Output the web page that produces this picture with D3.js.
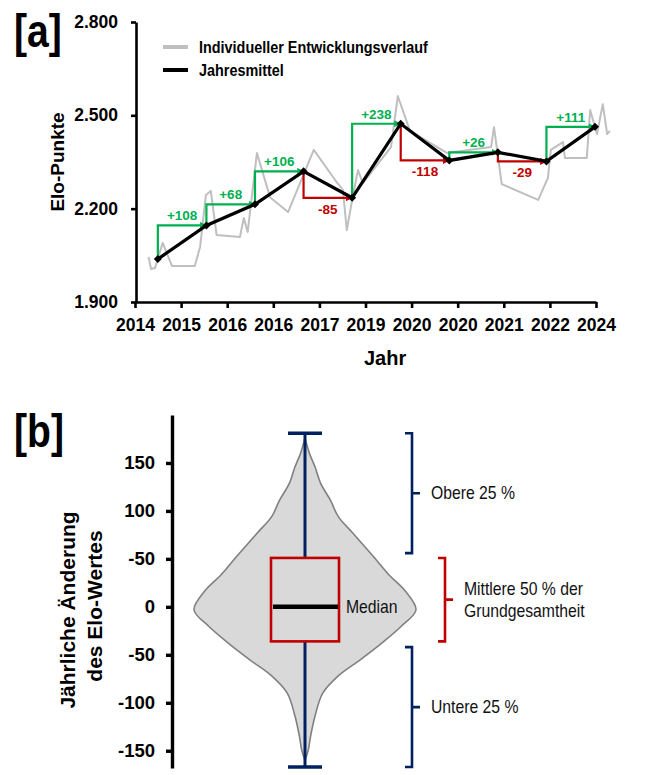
<!DOCTYPE html>
<html lang="de">
<head>
<meta charset="UTF-8">
<title>Elo-Entwicklung</title>
<script src="https://d3js.org/d3.v7.min.js"></script>
<style>
  body {margin: 0; background: #fff}
  text {font-family: 'Liberation Sans Narrow', 'Arial Narrow', 'Liberation Sans', Arial, sans-serif; fill: #000}
  .bold {font-weight: bold}
</style>
</head>
<body>
<script>
const width  = 646;
const height = 775;

// ---- panel [a]: Elo-Verlauf
const meanYears = [2014.5, 2015.5, 2016.5, 2017.5, 2018.5, 2019.5, 2020.5, 2021.5, 2022.5, 2023.5];
const meanElo   = [2038, 2146, 2214, 2320, 2235, 2473, 2355, 2381, 2352, 2463];
const diffLabels = ["+108", "+68", "+106", "-85", "+238", "-118", "+26", "-29", "+111"];

const greyYears = [2014.31, 2014.36, 2014.44, 2014.60, 2014.79, 2015.26, 2015.37, 2015.49, 2015.59, 2015.71,
                   2016.19, 2016.27, 2016.35, 2016.54, 2016.81, 2017.18, 2017.71, 2018.15, 2018.31, 2018.39,
                   2018.50, 2018.62, 2018.72, 2019.30, 2019.44, 2019.69, 2020.45, 2021.36, 2021.42, 2021.58,
                   2022.33, 2022.53, 2022.59, 2022.84, 2022.88, 2023.33, 2023.40, 2023.54, 2023.66, 2023.75, 2023.81];
const greyElo   = [2045, 2006, 2009, 2090, 2016, 2016, 2077, 2244, 2257, 2115,
                   2109, 2170, 2125, 2379, 2237, 2189, 2389, 2292, 2260, 2131,
                   2228, 2324, 2282, 2398, 2562, 2450, 2379, 2398, 2462, 2279,
                   2228, 2299, 2389, 2414, 2363, 2363, 2517, 2440, 2536, 2440, 2450];

const xTickLabels   = ["2014", "2015", "2016", "2016", "2017", "2019", "2020", "2020", "2021", "2022", "2024"];
const eloTicks      = [1900, 2200, 2500, 2800];
const eloTickLabels = ["1.900", "2.200", "2.500", "2.800"];
const legendLabels  = ["Individueller Entwicklungsverlauf", "Jahresmittel"];

// ---- panel [b]: jährliche Änderung
const violinValues  = [176, 160, 146, 129, 111, 94, 77, 52, 33, 17, -3, -20, -37, -55, -72, -90, -114, -135, -149, -160];
const violinDensity = [0, .04, .09, .14, .23, .30, .43, .62, .76, .90, 1, .87, .70, .50, .30, .16, .09, .05, .03, 0];
const whiskerRange  = [181, -167];
const quartiles     = [51, -36];
const medianValue   = 0;
const changeTicks      = [150, 100, 50, 0, -50, -100, -150];
const changeTickLabels = ["150", "100", "-50", "0", "-50", "-100", "-150"];
const bracketRanges = [[181, 56], [51, -36], [-42, -167]];
const bracketLabels = [["Obere 25 %"], ["Mittlere 50 % der", "Grundgesamtheit"], ["Untere 25 %"]];

const navy  = "#002060";
const red   = "#c00000";
const green = "#00b050";

// squeeze text horizontally around its anchor point (no narrow font available)
function narrow(sel, s) {
    sel.each(function() {
        const t = d3.select(this);
        const x0 = +t.attr("x") || 0, y0 = +t.attr("y") || 0;
        const prev = t.attr("transform") || "";
        t.attr("transform", `${prev} translate(${x0},${y0}) scale(${s},1) translate(${-x0},${-y0})`);
    });
}

const svg = d3.select("body").append("svg")
    .attr("width", width)
    .attr("height", height);

const defs = svg.append("defs");
[["up", green], ["down", red]].forEach(([id, c]) => {
    defs.append("marker")
        .attr("id", "arrow-" + id)
        .attr("viewBox", "0 0 10 10")
        .attr("refX", 9).attr("refY", 5)
        .attr("markerWidth", 3.2).attr("markerHeight", 3.2)
        .attr("orient", "auto")
        .append("path")
        .attr("d", "M0,0L10,5L0,10z")
        .attr("fill", c);
});

// ================= [a] =================
const x = d3.scaleLinear().domain([2014.03, 2023.52]).range([135, 596]);
const y = d3.scaleLinear().domain([1900, 2800]).range([302, 22]);

const xTickValues = d3.range(xTickLabels.length)
    .map(i => x.domain()[0] + i * (x.domain()[1] - x.domain()[0]) / (xTickLabels.length - 1));

const axA_y = svg.append("g")
    .attr("transform", "translate(136,0)")
    .call(d3.axisLeft(y).tickValues(eloTicks).tickSize(5).tickSizeOuter(0).tickPadding(13)
          .tickFormat((d, i) => eloTickLabels[i]));
const axA_x = svg.append("g")
    .attr("transform", "translate(0,302)")
    .call(d3.axisBottom(x).tickValues(xTickValues).tickSize(6).tickSizeOuter(0).tickPadding(11)
          .tickFormat((d, i) => xTickLabels[i]));

[axA_y, axA_x].forEach(g => {
    g.select(".domain").attr("stroke-width", 2.6);
    g.selectAll(".tick line").attr("stroke-width", 2.6);
    g.selectAll(".tick text").attr("class", "bold").style("font-size", "17.5px");
});

// grey individual course
svg.append("path")
    .attr("d", d3.line().x((d, i) => x(greyYears[i])).y(d => y(d))(greyElo))
    .attr("fill", "none")
    .attr("stroke", "#bfbfbf")
    .attr("stroke-width", 2)
    .attr("stroke-linejoin", "round");

// step arrows with labels
const steps = d3.range(meanElo.length - 1);
svg.selectAll("path.step")
    .data(steps).enter()
    .append("path")
    .attr("class", "step")
    .attr("d", i => `M${x(meanYears[i])},${y(meanElo[i])}V${y(meanElo[i + 1])}H${x(meanYears[i + 1])}`)
    .attr("fill", "none")
    .attr("stroke", i => meanElo[i + 1] >= meanElo[i] ? green : red)
    .attr("stroke-width", 2.2)
    .attr("marker-end", i => meanElo[i + 1] >= meanElo[i] ? "url(#arrow-up)" : "url(#arrow-down)");

svg.selectAll("text.step")
    .data(steps).enter()
    .append("text")
    .attr("class", "step bold")
    .attr("x", i => (x(meanYears[i]) + x(meanYears[i + 1])) / 2)
    .attr("y", i => meanElo[i + 1] >= meanElo[i] ? y(meanElo[i + 1]) - 5 : y(meanElo[i + 1]) + 16)
    .attr("text-anchor", "middle")
    .style("font-size", "13.5px")
    .style("fill", i => meanElo[i + 1] >= meanElo[i] ? green : red)
    .text(i => diffLabels[i]);

// annual mean line + diamonds
svg.append("path")
    .attr("d", d3.line().x((d, i) => x(meanYears[i])).y(d => y(d))(meanElo))
    .attr("fill", "none")
    .attr("stroke", "#000")
    .attr("stroke-width", 3.2);

svg.selectAll("path.dot")
    .data(meanElo).enter()
    .append("path")
    .attr("class", "dot")
    .attr("d", d3.symbol(d3.symbolSquare, 32))
    .attr("transform", (d, i) => `translate(${x(meanYears[i])},${y(d)}) rotate(45)`)
    .attr("fill", "#000");

// legend
const legend = svg.selectAll("g.legend")
    .data(legendLabels).enter()
    .append("g")
    .attr("class", "legend")
    .attr("transform", (d, i) => `translate(163,${47 + i * 23})`);
legend.append("line")
    .attr("x1", 0).attr("x2", 25)
    .attr("stroke", (d, i) => i == 0 ? "#bfbfbf" : "#000")
    .attr("stroke-width", 4);
legend.append("text")
    .attr("class", "bold legend-text")
    .attr("x", 36).attr("y", 6)
    .style("font-size", "16px")
    .text(d => d);
narrow(legend.selectAll("text"), 0.9);

const tagA = svg.append("text").attr("class", "bold")
    .attr("x", 14).attr("y", 47)
    .style("font-size", "46px")
    .text("[a]");
narrow(tagA, 0.85);
svg.append("text").attr("class", "bold")
    .attr("transform", "translate(64,162) rotate(-90)")
    .attr("text-anchor", "middle")
    .style("font-size", "19px")
    .text("Elo-Punkte");
svg.append("text").attr("class", "bold")
    .attr("x", 364).attr("y", 365)
    .style("font-size", "20px")
    .text("Jahr");

// ================= [b] =================
const yb = d3.scaleLinear().domain([-168, 200]).range([768, 415]);
const cx = 305;
const w  = d3.scaleLinear().domain([0, 1]).range([0, 111]);

const axB = svg.append("g")
    .attr("transform", "translate(172,0)")
    .call(d3.axisLeft(yb).tickValues(changeTicks).tickSize(6).tickSizeOuter(0).tickPadding(11)
          .tickFormat((d, i) => changeTickLabels[i]));
axB.select(".domain").attr("stroke-width", 3.4);
axB.selectAll(".tick line").attr("stroke-width", 3.4);
axB.selectAll(".tick text").attr("class", "bold").style("font-size", "18.5px");

// violin
svg.append("path")
    .datum(violinValues)
    .attr("d", d3.area()
        .curve(d3.curveCatmullRom)
        .y(d => yb(d))
        .x0((d, i) => cx - w(violinDensity[i]))
        .x1((d, i) => cx + w(violinDensity[i])))
    .attr("fill", "#d9d9d9")
    .attr("stroke", "#808080")
    .attr("stroke-width", 1.6);

// whiskers
const boxHalf = 34;
svg.append("line")
    .attr("x1", cx).attr("x2", cx)
    .attr("y1", yb(whiskerRange[0])).attr("y2", yb(quartiles[0]))
    .attr("stroke", navy).attr("stroke-width", 3);
svg.append("line")
    .attr("x1", cx).attr("x2", cx)
    .attr("y1", yb(quartiles[1])).attr("y2", yb(whiskerRange[1]))
    .attr("stroke", navy).attr("stroke-width", 3);
svg.selectAll("line.cap")
    .data(whiskerRange).enter()
    .append("line")
    .attr("class", "cap")
    .attr("x1", cx - 17).attr("x2", cx + 17)
    .attr("y1", d => yb(d)).attr("y2", d => yb(d))
    .attr("stroke", navy).attr("stroke-width", 3.5);

// box + median
svg.append("rect")
    .attr("x", cx - boxHalf).attr("width", 2 * boxHalf)
    .attr("y", yb(quartiles[0])).attr("height", yb(quartiles[1]) - yb(quartiles[0]))
    .attr("fill", "none")
    .attr("stroke", red).attr("stroke-width", 2.6);
svg.append("line")
    .attr("x1", cx - boxHalf + 2).attr("x2", cx + boxHalf - 1)
    .attr("y1", yb(medianValue)).attr("y2", yb(medianValue))
    .attr("stroke", "#000").attr("stroke-width", 4.5);
const medText = svg.append("text")
    .attr("x", cx + 41).attr("y", yb(medianValue) + 6)
    .style("font-size", "17.5px")
    .style("fill", "#111")
    .text("Median");
narrow(medText, 0.9);

// brackets
const bracketX = [412, 445, 412];
const bracketColor = [navy, red, navy];
bracketRanges.forEach((r, i) => {
    const bx = bracketX[i], y0 = yb(r[0]), y1 = yb(r[1]), ym = (y0 + y1) / 2;
    svg.append("path")
        .attr("d", `M${bx - 7},${y0}H${bx}V${y1}H${bx - 7}M${bx},${ym}H${bx + 8}`)
        .attr("fill", "none")
        .attr("stroke", bracketColor[i])
        .attr("stroke-width", 2.6);
    const lines = bracketLabels[i];
    const t = svg.append("text")
        .attr("x", bx + 19)
        .attr("y", ym + 6 - (lines.length - 1) * 11)
        .style("font-size", "17.5px")
        .style("fill", "#111");
    t.selectAll("tspan")
        .data(lines).enter()
        .append("tspan")
        .attr("x", bx + 19)
        .attr("dy", (d, j) => j == 0 ? 0 : 22)
        .text(d => d);
    narrow(t, 0.9);
});

const tagB = svg.append("text").attr("class", "bold")
    .attr("x", 14).attr("y", 447)
    .style("font-size", "46px")
    .text("[b]");
narrow(tagB, 0.85);
svg.append("text").attr("class", "bold")
    .attr("transform", "translate(75,610) rotate(-90)")
    .attr("text-anchor", "middle")
    .style("font-size", "21px")
    .text("Jährliche Änderung");
svg.append("text").attr("class", "bold")
    .attr("transform", "translate(102,606) rotate(-90)")
    .attr("text-anchor", "middle")
    .style("font-size", "21px")
    .text("des Elo-Wertes");
</script>
</body>
</html>
